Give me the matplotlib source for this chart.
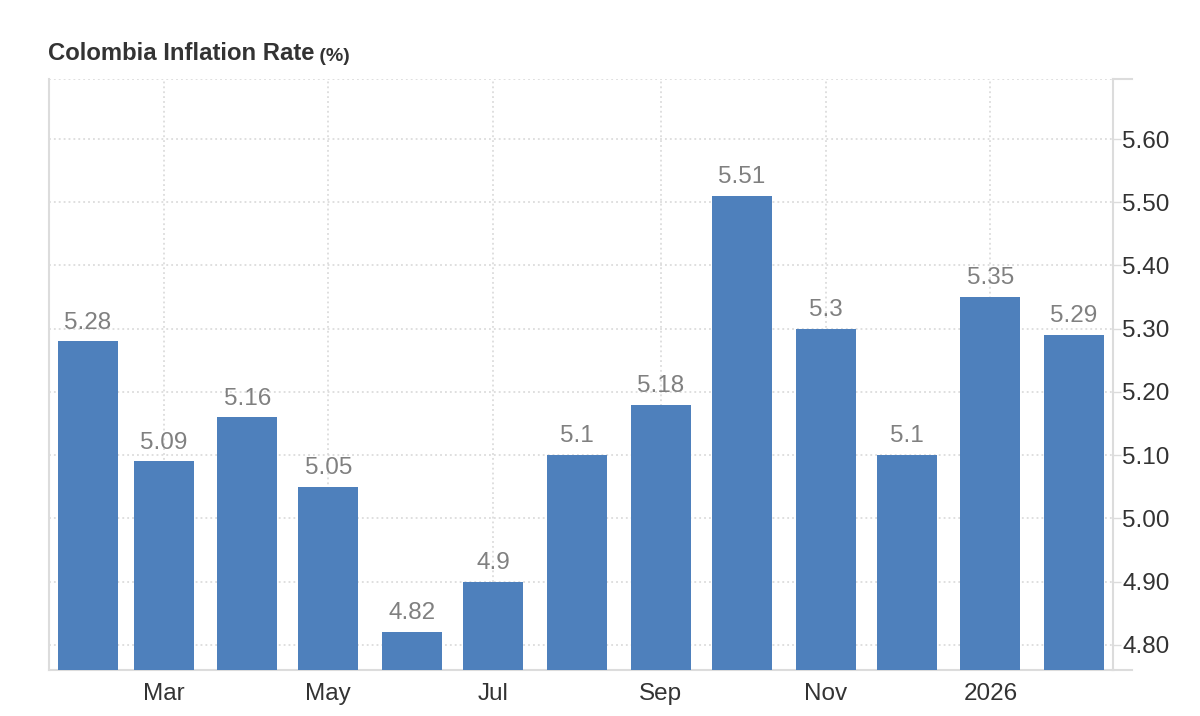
import matplotlib
matplotlib.use("Agg")
import matplotlib.pyplot as plt
import matplotlib.dates as mdates
import numpy as np
from datetime import date

# monthly readings, Feb 2025 .. Feb 2026
months = ["2025-02", "2025-03", "2025-04", "2025-05", "2025-06", "2025-07", "2025-08",
          "2025-09", "2025-10", "2025-11", "2025-12", "2026-01", "2026-02"]
values = [5.28, 5.09, 5.16, 5.05, 4.82, 4.90, 5.10, 5.18, 5.51, 5.30, 5.10, 5.35, 5.29]
labels = ["5.28", "5.09", "5.16", "5.05", "4.82", "4.9", "5.1", "5.18", "5.51", "5.3", "5.1", "5.35", "5.29"]

tick_months = ["2025-03", "2025-05", "2025-07", "2025-09", "2025-11", "2026-01"]
tick_labels = ["Mar", "May", "Jul", "Sep", "Nov", "2026"]
y_ticks = [4.80, 4.90, 5.00, 5.10, 5.20, 5.30, 5.40, 5.50, 5.60]

title = "Colombia Inflation Rate"
unit = "(%)"

plt.rcParams['font.family'] = ['Liberation Sans', 'DejaVu Sans']

def to_num(s):
    y, m = s.split("-")
    return mdates.date2num(date(int(y), int(m), 1))

x = np.array([to_num(m) for m in months])
xt = [to_num(m) for m in tick_months]

bar_color = "#4e80bc"
grid_color = "#d6d6d6"
axis_color = "#dcdcdc"

fig = plt.figure(figsize=(12, 7.16), dpi=100)
ax = fig.add_axes([49/1200, 1 - 670/716, (1113 - 49)/1200, (670 - 79)/716])

ax.bar(x, values, width=22.2, color=bar_color, bottom=0, zorder=3)

for xi, v, lab in zip(x, values, labels):
    ax.annotate(lab, (xi, v), xytext=(0, 5.5), textcoords="offset points",
                ha="center", va="bottom", fontsize=17.5, color="#808080", zorder=4)

ax.set_xlim(x[0] - 14.4, x[-1] + 14.4)
ax.set_ylim(4.76, 5.695)

ax.set_xticks(xt)
ax.set_xticklabels(tick_labels)
ax.set_yticks(y_ticks)
ax.set_yticklabels(["%.2f" % t for t in y_ticks])

ax.yaxis.tick_right()
ax.tick_params(axis="y", length=6, width=1, color=axis_color, pad=0.5,
               labelsize=17.5, labelcolor="#333333")
ax.tick_params(axis="x", length=0, pad=9.5, labelsize=17.5, labelcolor="#333333")

ax.grid(True, color=grid_color, linestyle=(0, (1.2, 2)), linewidth=1.1, zorder=0)

for side in ["left", "right", "bottom"]:
    ax.spines[side].set_color(axis_color)
    ax.spines[side].set_linewidth(1.5)
ax.spines["top"].set_visible(False)
ax.axhline(5.695, color=grid_color, linestyle=(0, (1.2, 2)), linewidth=1.1, zorder=0)

# short extensions of top/bottom lines past the right axis
trans = ax.get_yaxis_transform()
ax.plot([1.0, 1.018], [4.76, 4.76], transform=trans, color=axis_color, lw=1.5, clip_on=False)
ax.plot([1.0, 1.018], [5.695, 5.695], transform=trans, color=axis_color, lw=1.5, clip_on=False)

t = fig.text(48/1200, 1 - 60/716, title, fontsize=17.2, fontweight="bold", color="#333333",
             ha="left", va="baseline")
fig.canvas.draw()
ax.annotate(" " + unit, xy=(1, 0), xycoords=t, fontsize=14, fontweight="bold",
            color="#333333", ha="left", va="bottom")

fig.savefig("out.png", dpi=100)
